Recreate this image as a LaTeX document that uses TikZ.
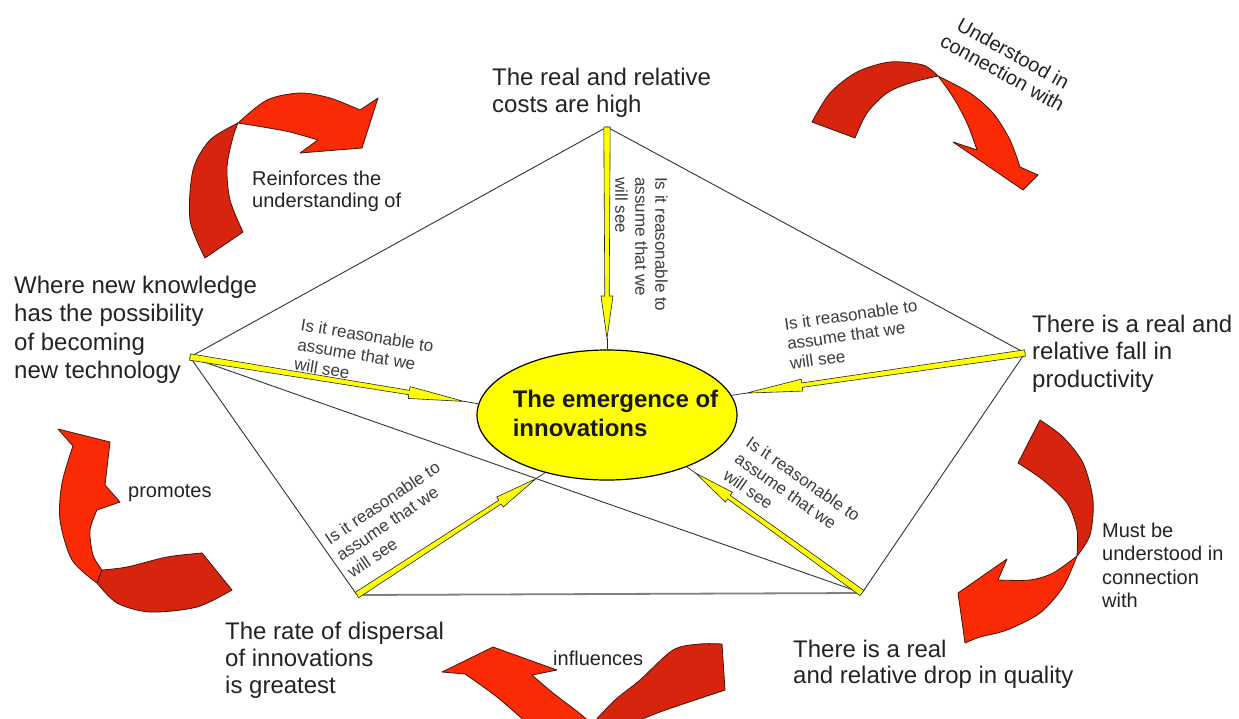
\documentclass[tikz,border=0pt]{standalone}
\usepackage{fontspec}
\setmainfont{Liberation Sans}
\usetikzlibrary{calc,shapes.geometric}
\definecolor{redb}{RGB}{250,42,5}
\definecolor{redd}{RGB}{214,36,14}
\definecolor{redline}{RGB}{70,20,10}
\definecolor{ylw}{RGB}{255,255,0}
\definecolor{txtc}{RGB}{35,35,35}
\definecolor{lblc}{RGB}{60,60,60}
\tikzset{
 pentline/.style={draw=black!80, line width=0.9pt},
 pentbase/.style={draw=black!50, line width=1.8pt},
 yarr/.style={fill=ylw, draw=black!85, line width=0.6pt, line join=miter},
 rbright/.style={fill=redb, draw=redline, line width=0.8pt, line join=round},
 rdark/.style={fill=redd, draw=redline, line width=0.8pt, line join=round},
 bigtxt/.style={font=\fontsize{24}{27.5}\selectfont, text=txtc, align=left, inner sep=0pt, anchor=north west},
 reltxt/.style={font=\fontsize{20}{22}\selectfont, text=txtc, align=left, inner sep=0pt},
 asktxt/.style={font=\fontsize{17}{20}\selectfont, text=lblc, align=left, inner sep=0pt, anchor=north west},
}
\newcommand\yarrow[2]{%
  \path ($(#1)!0.76!(#2)$) coordinate (yP) ($(#1)!0.95!(#2)$) coordinate (yQ);
  \filldraw[yarr] ($(#1)!3.2pt!90:(#2)$) -- ($(yP)!2.2pt!90:(#2)$) -- ($(yP)!6pt!90:(#2)$) -- (yQ) -- ($(yP)!6pt!-90:(#2)$) -- ($(yP)!2.2pt!-90:(#2)$) -- ($(#1)!3.2pt!-90:(#2)$) -- cycle;
  \draw[black!85, line width=0.7pt] (yQ) -- (#2);
}
\begin{document}
\begin{tikzpicture}[x=1pt,y=-1pt]
\useasboundingbox (0,0) rectangle (1239,718);
\fill[white] (0,0) rectangle (1239,718);
\clip (0,0) rectangle (1239,718);

% pentagon vertices
\coordinate (vT) at (607,127);
\coordinate (vL) at (190,357);
\coordinate (vR) at (1025,353);
\coordinate (vBL) at (357,595);
\coordinate (vBR) at (862,593);

\draw[pentline] (vL) -- (vT) -- (vR);
\draw[pentline] (vL) -- (vBL);
\draw[pentline] (vR) -- (vBR);
\draw[pentline] (vL) -- (vBR);
\draw[pentbase] (vBL) -- (vBR);

% centre
\node[ellipse, draw=black, line width=1.2pt, fill=ylw, minimum width=260pt, minimum height=130pt, inner sep=0pt] (emerg) at (607,415) {};
\node[font=\bfseries\fontsize{24}{29}\selectfont, align=left, inner sep=0pt, text=black!90] (emergtxt) at (615.5,413.7) {The emergence of\\innovations};

% yellow arrows
\yarrow{vT}{emerg.90}
\yarrow{vL}{emerg.175}
\yarrow{vR}{emerg.9}
\yarrow{vBL}{emerg.223}
\yarrow{vBR}{emerg.327}

% red arrow right
\filldraw[rdark] (1040,420) -- plot[smooth] coordinates {(1040,420) (1063,437) (1083,463) (1093,500) (1090,535) (1077,556)} -- plot[smooth] coordinates {(1077,556) (1077,530) (1067,503) (1043,480) (1018,463)} -- cycle;
\filldraw[rbright] (1077,556) -- plot[smooth] coordinates {(1077,556) (1063,587) (1040,613) (1007,630) (980,637) (965,643)} -- (958,593) -- (1007,559) -- (998,580) -- plot[smooth] coordinates {(998,580) (1030,580) (1053,573) (1077,556)} -- cycle;

% red arrow top left
\filldraw[rdark] (205,258) -- plot[smooth] coordinates {(205,258) (190,220) (193,170) (210,140) (238,123)} -- plot[smooth] coordinates {(238,123) (233,137) (227,167) (230,200) (243,232)} -- cycle;
\filldraw[rbright] (238,123) -- plot[smooth] coordinates {(238,123) (267,100) (300,93) (330,98) (360,110)} -- (378,98) -- (362,148) -- (300,153) -- (318,140) -- plot[smooth] coordinates {(318,140) (290,132) (263,127) (238,123)} -- cycle;

% red arrow top right
\filldraw[rdark] (812,122) -- plot[smooth] coordinates {(812,122) (830,93) (857,72) (890,62) (923,65) (938,76)} -- plot[smooth] coordinates {(938,76) (910,83) (887,93) (867,113) (855,138)} -- cycle;
\filldraw[rbright] (938,76) -- plot[smooth] coordinates {(938,76) (970,93) (993,113) (1010,140) (1020,167)} -- (1038,175) -- (1023,190) -- (953,142) -- (977,150) -- plot[smooth] coordinates {(977,150) (967,123) (953,97) (938,76)} -- cycle;

% red arrow bottom
\filldraw[rbright] (442,672) -- (493,647) -- (557,670) -- (532,675) -- plot[smooth] coordinates {(532,675) (553,693) (578,712) (592,724)} -- (528,724) -- plot[smooth] coordinates {(528,724) (497,697) (465,674)} -- cycle;
\filldraw[rdark] (592,724) -- plot[smooth] coordinates {(592,724) (615,700) (640,680) (673,650) (700,644) (722,644)} -- (725,690) -- plot[smooth] coordinates {(725,690) (695,700) (660,712) (630,724)} -- cycle;

% red arrow left
\filldraw[rbright] (58,429) -- (110,442) -- (105,485) -- (120,502) -- (97,510) -- plot[smooth] coordinates {(97,510) (90,530) (93,555) (102,570)} -- (97,583) -- plot[smooth] coordinates {(97,583) (72,560) (60,520) (62,483) (73,446)} -- cycle;
\filldraw[rdark] (102,570) -- plot[smooth] coordinates {(102,570) (127,567) (167,557) (202,553)} -- (232,590) -- plot[smooth] coordinates {(232,590) (197,607) (150,612) (117,603) (97,583)} -- cycle;

% vertex texts
\node[bigtxt, font=\fontsize{24}{27}\selectfont] (nT) at (492,67.8) {The real and relative\\costs are high};
\node[bigtxt, font=\fontsize{24}{28.3}\selectfont] (nL) at (14,276) {Where new knowledge\\has the possibility\\of becoming\\new technology};
\node[bigtxt] (nR) at (1032,314.8) {There is a real and\\relative fall in\\productivity};
\node[bigtxt, font=\fontsize{24}{27}\selectfont] (nBL) at (225,622) {The rate of dispersal\\of innovations\\is greatest};
\node[bigtxt, font=\fontsize{24}{26}\selectfont] (nBR) at (793,640) {There is a real\\and relative drop in quality};

% arrow labels
\node[asktxt, rotate=-90] (qT) at (668,177) {Is it reasonable to\\assume that we\\will see};
\node[asktxt, rotate=-9.5] (qL) at (302,318) {Is it reasonable to\\assume that we\\will see};
\node[asktxt, rotate=8] (qR) at (783.3,317.7) {Is it reasonable to\\assume that we\\will see};
\node[asktxt, rotate=-35] (qBR) at (752,435) {Is it reasonable to\\assume that we\\will see};
\node[asktxt, rotate=34] (qBL) at (323,535) {Is it reasonable to\\assume that we\\will see};

% relation labels
\node[reltxt, anchor=north west, font=\fontsize{20}{21.7}\selectfont] (rTL) at (252,170.7) {Reinforces the\\understanding of};
\node[reltxt, align=center, rotate=-29] (rTR) at (1008,63) {Understood in\\connection with};
\node[reltxt, anchor=north west, font=\fontsize{20}{23.3}\selectfont] (rR) at (1102,522.7) {Must be\\understood in\\connection\\with};
\node[reltxt, anchor=base west] (rL) at (128,497) {promotes};
\node[reltxt, anchor=base west] (rB) at (553,665) {influences};
\end{tikzpicture}
\end{document}
